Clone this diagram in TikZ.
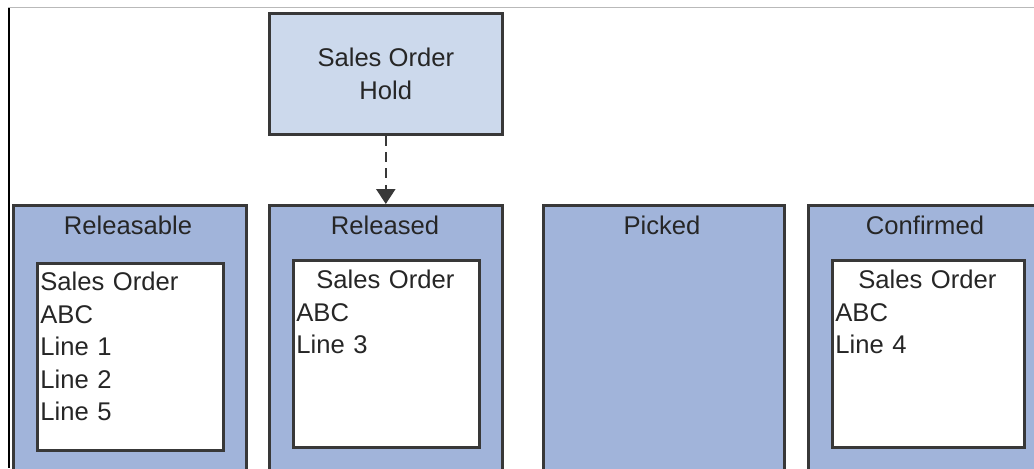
\documentclass[tikz,border=0pt]{standalone}
\usepackage{fontspec}
\setmainfont{Liberation Sans}
\usetikzlibrary{arrows.meta}
\definecolor{bleuclair}{HTML}{CCD9EC}
\definecolor{bleu}{HTML}{A1B4DA}
\definecolor{bord}{HTML}{383838}
\definecolor{texte}{HTML}{262626}

\begin{document}
\begin{tikzpicture}[x=0.5pt,y=-0.5pt,
	etat/.style={draw=bord,line width=1.3pt,fill=bleu,anchor=north west,inner sep=0pt,minimum height=140pt},
	cadre/.style={draw=bord,line width=1.3pt,fill=white,anchor=north west,inner sep=0pt,minimum width=93pt,minimum height=93.5pt},
	titre/.style={font=\fontsize{12.8}{16}\selectfont,text=texte},
	liste/.style={anchor=north west,inner sep=0pt,text width=89pt,align=left,font=\fontsize{12.8}{16.25}\selectfont,text=texte},
	fleche/.style={draw=bord,line width=1.2pt,dash pattern=on 5pt off 3.2pt,-{Triangle[length=7.5pt,width=9.5pt]}}]
				\clip (0,0) rectangle (1034,468);
				% Cadre
				\draw [gray!55,line width=0.6pt] (8,7.5) -- (1034,7.5);
				\draw [black,line width=0.8pt] (9,8) -- (9,468);
				% Blocage
				\node [draw=bord,line width=1.3pt,fill=bleuclair,anchor=north west,minimum width=116.5pt,minimum height=60.5pt,align=center,font=\fontsize{12.8}{16.5}\selectfont,text=texte] (hold) at (268,12) {Sales Order\\Hold};
				% Colonnes
				\node [etat,minimum width=116.5pt] (rel) at (12,204) {};
				\node [etat,minimum width=116.5pt] (rld) at (268,204) {};
				\node [etat,minimum width=120.5pt] (pck) at (542,204) {};
				\node [etat,minimum width=118pt] (cnf) at (807,204) {};
				\node [titre] (trel) at (128,225) {Releasable};
				\node [titre] (trld) at (385,225) {Released};
				\node [titre] (tpck) at (662,225) {Picked};
				\node [titre] (tcnf) at (925,225) {Confirmed};
				% Commandes
				\node [cadre] (brel) at (36,262) {};
				\node [cadre] (brld) at (292,259) {};
				\node [cadre,minimum width=96pt] (bcnf) at (831,259) {};
				\node [liste] (lrel) at (40,272) {Sales Order\\ABC\\Line 1\\Line 2\\Line 5};
				\node [liste] (lrld) at (296,270) {\makebox[\linewidth]{Sales Order}\\ABC\\Line 3};
				\node [liste,text width=92pt] (lcnf) at (835,270) {\makebox[\linewidth]{Sales Order}\\ABC\\Line 4};
				% Flèche
				\draw [fleche] (hold.south) -- (rld.north);
				\end{tikzpicture}
\end{document}
